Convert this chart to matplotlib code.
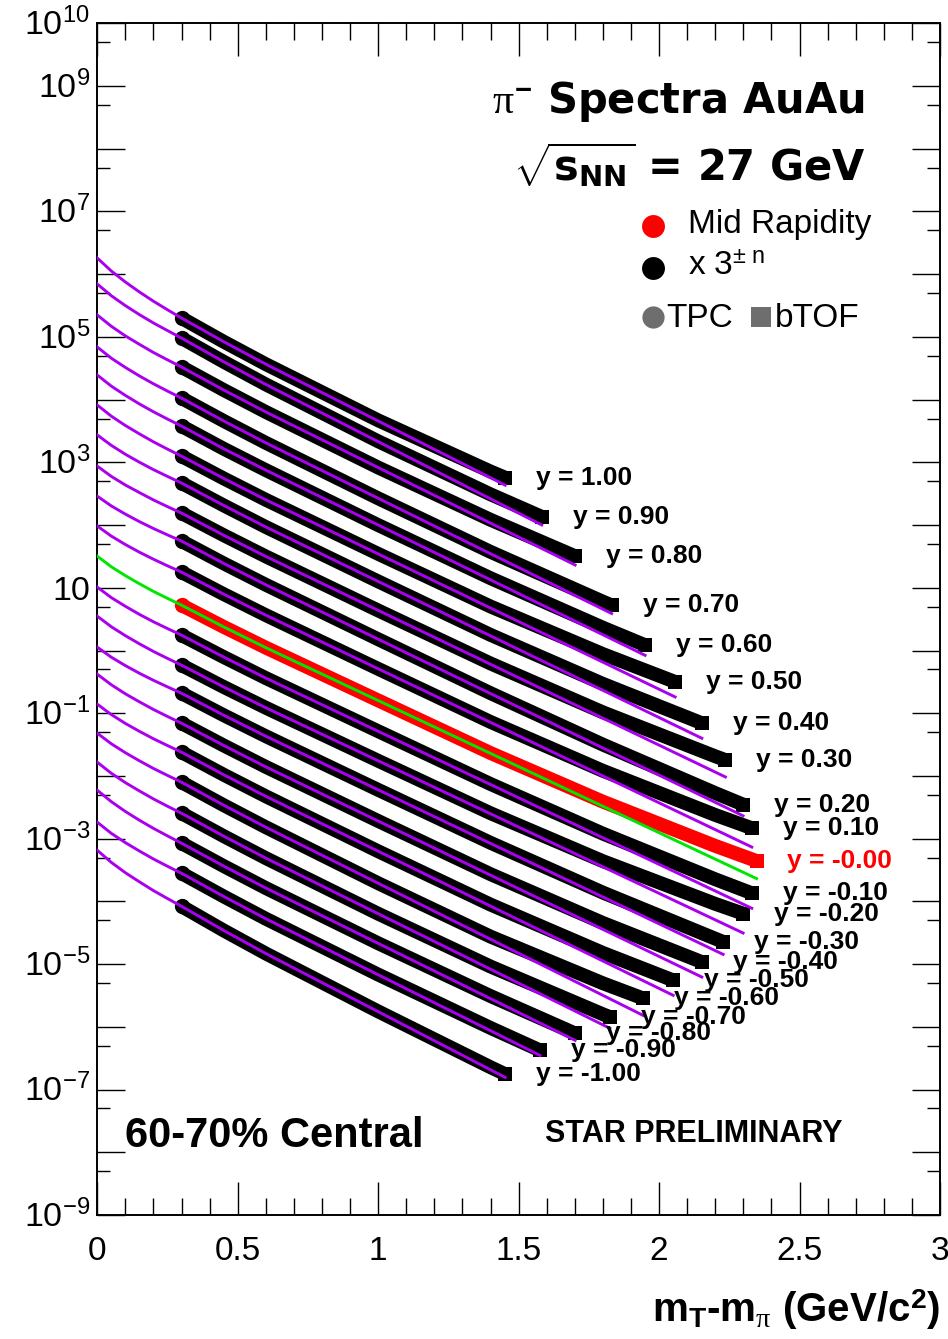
import numpy as np
import matplotlib
matplotlib.use("Agg")
import matplotlib.pyplot as plt
from matplotlib.ticker import FixedLocator, LogLocator, NullFormatter
from matplotlib.transforms import blended_transform_factory, ScaledTranslation

plt.rcParams.update({
    "font.family": ["Liberation Sans", "DejaVu Sans"],
    "mathtext.fontset": "custom",
    "mathtext.rm": "Liberation Sans:bold",
    "mathtext.bf": "DejaVu Sans:bold",
    "mathtext.it": "Liberation Serif",
    "mathtext.sf": "Liberation Sans",
})

# ---------------------------------------------------------------- data
# rapidity slices, top to bottom; each spectrum is drawn multiplied by 3**n
rapidity = [1.0, 0.9, 0.8, 0.7, 0.6, 0.5, 0.4, 0.3, 0.2, 0.1, 0.0,
            -0.1, -0.2, -0.3, -0.4, -0.5, -0.6, -0.7, -0.8, -0.9, -1.0]
scale_power = [10, 9, 8, 7, 6, 5, 4, 3, 2, 1, 0,
               -1, -2, -3, -4, -5, -6, -7, -8, -9, -10]
rap_labels = ["y = 1.00", "y = 0.90", "y = 0.80", "y = 0.70", "y = 0.60",
              "y = 0.50", "y = 0.40", "y = 0.30", "y = 0.20", "y = 0.10",
              "y = -0.00", "y = -0.10", "y = -0.20", "y = -0.30", "y = -0.40",
              "y = -0.50", "y = -0.60", "y = -0.70", "y = -0.80", "y = -0.90",
              "y = -1.00"]

# highest m_T - m_pi bin of each slice (GeV/c^2)
last_bin = [1.452, 1.582, 1.701, 1.831, 1.950, 2.057, 2.152, 2.236, 2.299, 2.330,
            2.347, 2.330, 2.299, 2.228, 2.152, 2.050, 1.943, 1.825, 1.701, 1.576,
            1.452]

# m_T - m_pi bins shared by the slices (the last bin of each slice is appended)
mt_bins = [0.3, 0.45, 0.6, 1.0, 1.4, 1.8, 2.2]
# abscissae where the fit curves are tabulated (the last bin is appended)
fit_knots = [0.0, 0.05, 0.1, 0.15, 0.2, 0.25, 0.3, 0.45, 0.6]

# invariant yields per slice (unscaled)
yield_p10 = [3.38, 1.42, 0.622, 7.91e-2, 1.21e-2, 9.66e-3]
yield_p09 = [4.86, 2.04, 0.887, 0.110, 1.57e-2, 6.89e-3]
yield_p08 = [5.04, 2.17, 0.968, 0.126, 1.85e-2, 4.86e-3]
yield_p07 = [4.83, 2.09, 0.935, 0.122, 1.71e-2, 2.75e-3, 2.40e-3]
yield_p06 = [5.19, 2.26, 1.03, 0.137, 1.95e-2, 3.17e-3, 1.67e-3]
yield_p05 = [5.16, 2.28, 1.04, 0.143, 2.07e-2, 3.61e-3, 1.30e-3]
yield_p04 = [5.77, 2.54, 1.15, 0.156, 2.19e-2, 3.63e-3, 8.57e-4]
yield_p03 = [5.74, 2.55, 1.17, 0.161, 2.30e-2, 3.83e-3, 7.62e-4, 6.65e-4]
yield_p02 = [6.17, 2.72, 1.24, 0.168, 2.32e-2, 3.51e-3, 5.93e-4, 3.89e-4]
yield_p01 = [5.92, 2.64, 1.22, 0.170, 2.42e-2, 4.03e-3, 7.96e-4, 4.90e-4]
yield_0 = [5.28, 2.38, 1.11, 0.160, 2.32e-2, 3.89e-3, 7.67e-4, 4.41e-4]
yield_m01 = [5.26, 2.36, 1.09, 0.155, 2.23e-2, 3.61e-3, 6.76e-4, 4.05e-4]
yield_m02 = [5.25, 2.36, 1.10, 0.157, 2.29e-2, 3.94e-3, 8.22e-4, 5.75e-4]
yield_m03 = [5.62, 2.51, 1.16, 0.162, 2.32e-2, 3.73e-3, 6.87e-4, 6.12e-4]
yield_m04 = [5.61, 2.48, 1.13, 0.155, 2.20e-2, 3.67e-3, 8.75e-4]
yield_m05 = [5.81, 2.54, 1.15, 0.153, 2.16e-2, 3.67e-3, 1.34e-3]
yield_m06 = [5.79, 2.49, 1.11, 0.142, 2.00e-2, 3.61e-3, 2.07e-3]
yield_m07 = [5.56, 2.40, 1.07, 0.139, 2.00e-2, 3.47e-3, 3.13e-3]
yield_m08 = [5.55, 2.40, 1.07, 0.141, 2.03e-2, 5.15e-3]
yield_m09 = [5.52, 2.36, 1.04, 0.134, 1.89e-2, 8.30e-3]
yield_m10 = [4.93, 2.03, 0.871, 0.104, 1.34e-2, 1.04e-2]

# fit curves tabulated at fit_knots + last bin (unscaled)
fit_p10 = [30.6, 19.0, 12.7, 8.81, 6.27, 4.58, 3.38, 1.42, 0.622, 7.33e-3]
fit_p09 = [35.4, 23.0, 16.0, 11.5, 8.47, 6.40, 4.86, 2.04, 0.887, 5.11e-3]
fit_p08 = [34.0, 22.5, 15.8, 11.6, 8.59, 6.56, 5.04, 2.17, 0.968, 3.52e-3]
fit_p07 = [31.5, 20.9, 14.9, 10.9, 8.17, 6.25, 4.83, 2.09, 0.935, 1.78e-3]
fit_p06 = [33.8, 22.5, 16.0, 11.7, 8.77, 6.71, 5.19, 2.26, 1.03, 1.15e-3]
fit_p05 = [33.7, 22.4, 15.9, 11.7, 8.73, 6.68, 5.16, 2.28, 1.04, 7.48e-4]
fit_p04 = [33.7, 23.0, 16.6, 12.4, 9.44, 7.36, 5.77, 2.54, 1.15, 4.93e-4]
fit_p03 = [32.2, 22.1, 16.1, 12.2, 9.31, 7.28, 5.74, 2.55, 1.17, 3.57e-4]
fit_p02 = [32.1, 22.4, 16.6, 12.6, 9.79, 7.74, 6.17, 2.72, 1.24, 2.57e-4]
fit_p01 = [32.1, 22.2, 16.3, 12.3, 9.51, 7.46, 5.92, 2.64, 1.22, 2.45e-4]
fit_0 = [31.9, 21.6, 15.6, 11.6, 8.75, 6.78, 5.28, 2.38, 1.11, 2.31e-4]
fit_m01 = [30.7, 20.9, 15.2, 11.3, 8.61, 6.71, 5.26, 2.36, 1.09, 2.33e-4]
fit_m02 = [31.7, 21.5, 15.5, 11.5, 8.69, 6.73, 5.25, 2.36, 1.10, 2.82e-4]
fit_m03 = [30.5, 21.1, 15.5, 11.7, 9.04, 7.10, 5.62, 2.51, 1.16, 3.86e-4]
fit_m04 = [33.9, 23.0, 16.5, 12.3, 9.29, 7.19, 5.61, 2.48, 1.13, 5.04e-4]
fit_m05 = [33.9, 23.1, 16.7, 12.5, 9.51, 7.41, 5.81, 2.54, 1.15, 7.73e-4]
fit_m06 = [35.0, 23.7, 17.1, 12.7, 9.59, 7.43, 5.79, 2.49, 1.11, 1.11e-3]
fit_m07 = [36.2, 24.1, 17.1, 12.6, 9.40, 7.19, 5.56, 2.40, 1.07, 2.07e-3]
fit_m08 = [38.8, 25.5, 17.8, 12.9, 9.57, 7.26, 5.55, 2.40, 1.07, 4.00e-3]
fit_m09 = [36.0, 23.9, 17.0, 12.5, 9.33, 7.14, 5.52, 2.36, 1.04, 6.90e-3]
fit_m10 = [38.5, 24.7, 16.9, 12.1, 8.77, 6.55, 4.93, 2.03, 0.871, 9.23e-3]

yields = [yield_p10, yield_p09, yield_p08, yield_p07, yield_p06, yield_p05,
          yield_p04, yield_p03, yield_p02, yield_p01, yield_0, yield_m01,
          yield_m02, yield_m03, yield_m04, yield_m05, yield_m06, yield_m07,
          yield_m08, yield_m09, yield_m10]
fits = [fit_p10, fit_p09, fit_p08, fit_p07, fit_p06, fit_p05, fit_p04, fit_p03,
        fit_p02, fit_p01, fit_0, fit_m01, fit_m02, fit_m03, fit_m04, fit_m05,
        fit_m06, fit_m07, fit_m08, fit_m09, fit_m10]

ytick_exponents = [10, 9, 7, 5, 3, 1, -1, -3, -5, -7, -9]
xtick_values = [0, 0.5, 1, 1.5, 2, 2.5, 3]
xtick_labels = ["0", "0.5", "1", "1.5", "2", "2.5", "3"]

# ---------------------------------------------------------------- figure
W, H = 948, 1339
fig = plt.figure(figsize=(W / 100, H / 100), dpi=100, facecolor="white")
ax = fig.add_axes([97.3 / W, 1 - 1215 / H, 842.7 / W, 1191.7 / H])
ax.set_yscale("log")
ax.set_xlim(0, 3)
ax.set_ylim(1e-9, 1e10)

FIT_COLOR = "#aa00f0"
for n, last, vals, fvals, lab in zip(scale_power, last_bin, yields, fits, rap_labels):
    s = 3.0 ** n
    color = "#ff0000" if n == 0 else "black"
    xd = np.array(mt_bins[:len(vals) - 1] + [last])
    yd = np.array(vals) * s
    ax.plot(xd, yd, color=color, lw=10, solid_capstyle="butt",
            solid_joinstyle="round", zorder=2)
    ax.plot(xd[:1], yd[:1], "o", color=color, ms=11, mew=0, zorder=2)
    ax.plot(xd[-1:], yd[-1:], "s", color=color, ms=10.5, mew=0, zorder=2)

    xf = np.array(fit_knots + [last])
    yf = np.array(fvals) * s
    ax.plot(xf, yf, color="#00e600" if n == 0 else FIT_COLOR, lw=2.1,
            zorder=4 if n == 0 else 3)

    ax.text(last + 0.11, yd[-1], lab, ha="left", va="center", fontsize=19,
            fontweight="bold", color=color, zorder=5)

# axes styling (ticks inside on all four sides)
for sp in ax.spines.values():
    sp.set_linewidth(1.4)
ax.xaxis.set_major_locator(FixedLocator(xtick_values))
ax.xaxis.set_minor_locator(FixedLocator(np.arange(0, 3.001, 0.1)))
ax.set_xticklabels(xtick_labels)
ax.yaxis.set_major_locator(LogLocator(base=10, numticks=40))
ax.yaxis.set_minor_locator(LogLocator(base=10, subs=[5.0], numticks=40))
ax.yaxis.set_major_formatter(NullFormatter())
ax.yaxis.set_minor_formatter(NullFormatter())
ax.tick_params(axis="x", which="major", direction="in", length=23.8, width=1.0,
               top=True, bottom=True, labelsize=24, pad=15)
ax.tick_params(axis="x", which="minor", direction="in", length=12.2, width=1.0,
               top=True, bottom=True)
ax.tick_params(axis="y", which="major", direction="in", length=20, width=1.0,
               left=True, right=True)
ax.tick_params(axis="y", which="minor", direction="in", length=9.4, width=1.0,
               left=True, right=True)

ylab_tr = blended_transform_factory(ax.transAxes, ax.transData) + \
    ScaledTranslation(0, -8.6 / 72, fig.dpi_scale_trans)
for e in ytick_exponents:
    txt = "10" if e == 1 else r"$\mathsf{10^{%d}}$" % e
    ax.text(-0.0087, 10.0 ** e, txt, transform=ylab_tr, ha="right",
            va="baseline", fontsize=24.5, clip_on=False)


def fxy(px, py):
    return px / W, 1 - py / H


# titles
fig.text(*fxy(865, 113), r"$\pi^{-}$ Spectra AuAu", ha="right", va="baseline",
         fontsize=30, fontweight="bold", family="DejaVu Sans")
fig.text(*fxy(866, 181), r"$\sqrt{\mathbf{s}_{\mathbf{NN}}}$ = 27 GeV",
         ha="right", va="baseline", fontsize=30, fontweight="bold",
         family="DejaVu Sans")

# legend
for (px, py), c, m, ms in [((652.7, 225.7), "#ff0000", "o", 16.5),
                           ((652.7, 268.3), "black", "o", 16.5),
                           ((653.0, 317.0), "#6e6e6e", "o", 16.0),
                           ((761.0, 317.0), "#6e6e6e", "s", 15.0)]:
    fig.add_artist(plt.Line2D([px / W], [1 - py / H], marker=m, color=c,
                              ms=ms, mew=0, linestyle="none",
                              transform=fig.transFigure))
fig.text(*fxy(688, 233), "Mid Rapidity", ha="left", va="baseline", fontsize=24)
fig.text(*fxy(688, 275), r"x 3$^{\mathsf{\pm\ n}}$", ha="left", va="baseline",
         fontsize=24)
fig.text(*fxy(666, 327), "TPC", ha="left", va="baseline", fontsize=24)
fig.text(*fxy(775, 327), "bTOF", ha="left", va="baseline", fontsize=24)

fig.text(*fxy(125, 1147), "60-70% Central", ha="left", va="baseline",
         fontsize=30, fontweight="bold")
fig.text(*fxy(545, 1142), "STAR PRELIMINARY", ha="left", va="baseline",
         fontsize=22, fontweight="bold")

fig.text(*fxy(940, 1322), r"m$_{\mathrm{T}}$-m$_{\pi}$ (GeV/c$^{\mathrm{2}}$)",
         ha="right", va="baseline", fontsize=29, fontweight="bold")

fig.savefig("out.png", dpi=100, facecolor="white")
